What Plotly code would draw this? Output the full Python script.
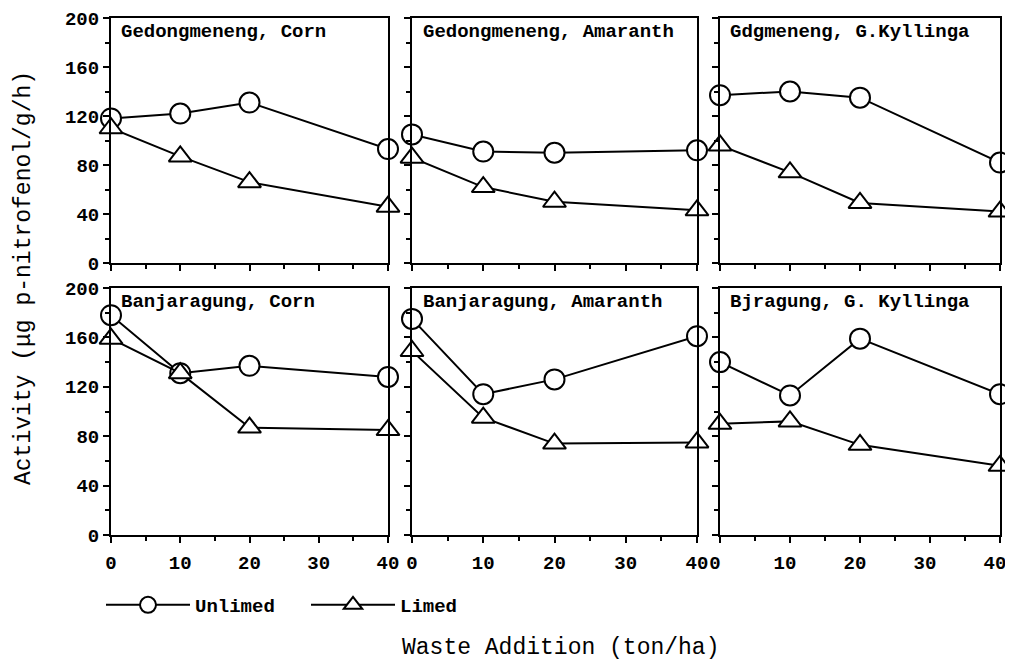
import plotly.graph_objects as go

waste = [0, 10, 20, 40]
titles = ["Gedongmeneng, Corn", "Gedongmeneng, Amaranth", "Gdgmeneng, G.Kyllinga",
          "Banjaragung, Corn", "Banjaragung, Amaranth", "Bjragung, G. Kyllinga"]
unlimed = [
    [118, 122, 131, 93],
    [105, 91, 90, 92],
    [137, 140, 135, 82],
    [178, 131, 137, 128],
    [175, 114, 126, 161],
    [140, 113, 159, 114],
]
limed = [
    [110, 87, 66, 46],
    [86, 62, 50, 43],
    [96, 74, 49, 42],
    [159, 131, 87, 85],
    [149, 95, 74, 75],
    [90, 92, 73, 56],
]
y_ticks = [0, 40, 80, 120, 160, 200]
x_ticks = [0, 10, 20, 30, 40]

# page has an 8px body margin; figure sized to the visible area
OFF = 8
W, H = 1013 - 2 * OFF, 662 - OFF


def px(xp):
    return (xp - OFF) / W


def py(yp):
    return 1 - (yp - OFF) / H


col_px = [(111, 388), (412, 697), (720, 1000)]
row_px = [(18, 263), (288, 535)]

FONT = "Liberation Mono, Courier New, monospace"

fig = go.Figure()
for i in range(6):
    r, c = divmod(i, 3)
    n = i + 1
    xa = "x" if n == 1 else f"x{n}"
    ya = "y" if n == 1 else f"y{n}"
    fig.add_trace(go.Scatter(
        x=waste, y=unlimed[i], xaxis=xa, yaxis=ya, mode="lines+markers",
        name="Unlimed", legendgroup="u", showlegend=(i == 0),
        line=dict(color="black", width=2),
        marker=dict(symbol="circle", size=20, color="white",
                    line=dict(color="black", width=2)),
        cliponaxis=False))
    fig.add_trace(go.Scatter(
        x=waste, y=limed[i], xaxis=xa, yaxis=ya, mode="lines+markers",
        name="Limed", legendgroup="l", showlegend=(i == 0),
        line=dict(color="black", width=2),
        marker=dict(symbol="triangle-up", size=20, color="white",
                    line=dict(color="black", width=2)),
        cliponaxis=False))
    x0, x1 = col_px[c]
    y0, y1 = row_px[r]
    axcommon = dict(showline=True, linecolor="black", linewidth=2, mirror=True,
                    showgrid=False, zeroline=False, ticks="outside", ticklen=6,
                    tickwidth=2, tickcolor="black", automargin=False,
                    tickfont=dict(family=FONT, size=19, color="black", weight="bold"))
    fig.layout[f"xaxis{n if n > 1 else ''}"] = dict(
        axcommon, domain=[px(x0), px(x1)], anchor=ya, range=[0, 40],
        tickvals=x_ticks, showticklabels=(r == 1), ticklabelstandoff=3,
        ticklabeloverflow="allow", ticklabelshift=(-5 if c == 2 else 0),
        minor=dict(dtick=5, ticks="outside", ticklen=4, tickwidth=2, tickcolor="black"))
    fig.layout[f"yaxis{n if n > 1 else ''}"] = dict(
        axcommon, domain=[py(y1), py(y0)], anchor=xa, range=[0, 200],
        tickvals=y_ticks, showticklabels=(c == 0),
        minor=dict(dtick=20, ticks="outside", ticklen=4, tickwidth=2, tickcolor="black"))
    fig.add_annotation(text=titles[i], xref=f"{xa} domain", yref=f"{ya} domain",
                       x=0.03, y=0.995, xanchor="left", yanchor="top", showarrow=False,
                       font=dict(family=FONT, size=19, color="black", weight="bold"))

fig.add_annotation(text="Activity (\u03bcg p-nitrofenol/g/h)", xref="paper", yref="paper",
                   x=px(24), y=py(278), textangle=-90, showarrow=False,
                   xanchor="center", yanchor="middle",
                   font=dict(family=FONT, size=23, color="black"))
fig.add_annotation(text="Waste Addition (ton/ha)", xref="paper", yref="paper",
                   x=px(560), y=py(648), showarrow=False,
                   xanchor="center", yanchor="middle",
                   font=dict(family=FONT, size=23, color="black"))

fig.update_layout(
    width=W, height=H, margin=dict(l=0, r=0, t=0, b=0, autoexpand=False),
    paper_bgcolor="white", plot_bgcolor="white",
    showlegend=True,
    legend=dict(orientation="h", x=px(101), y=py(605), xanchor="left", yanchor="middle",
                font=dict(family=FONT, size=19, color="black", weight="bold"),
                itemwidth=84, entrywidth=106, entrywidthmode="pixels",
                bgcolor="rgba(0,0,0,0)"),
)

fig.write_html("out.html")
